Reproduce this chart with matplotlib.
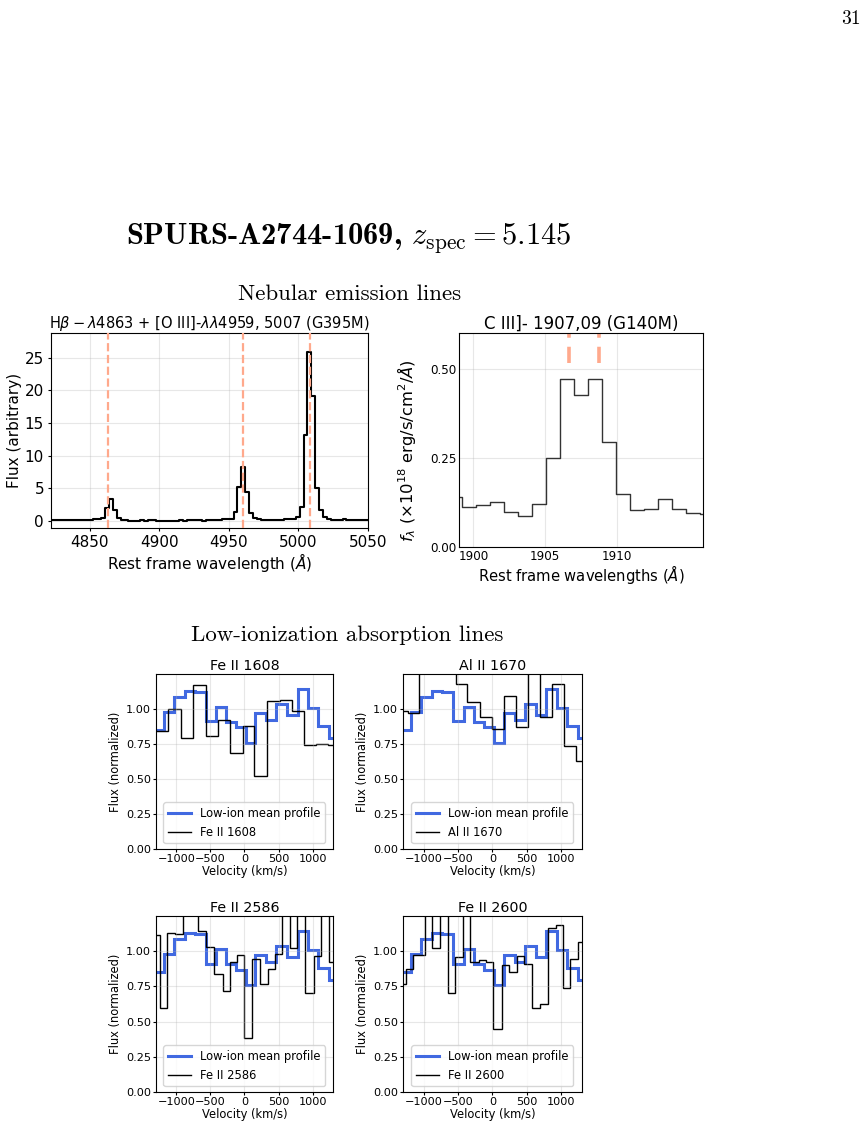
## Nebular emission + low-ion absorption lines for SPURS-A2744-1069
import os
import numpy as np
import matplotlib
matplotlib.use('Agg')
import matplotlib.pyplot as plt
from matplotlib.font_manager import FontProperties

# ---- Hbeta + [OIII] (G395M), rest frame
hb_wave = [4823.1, 4825.9, 4828.7, 4831.5, 4834.3, 4837.1, 4839.9, 4842.7, 4845.5, 4848.3,
           4851.1, 4853.9, 4856.7, 4859.5, 4862.3, 4865.1, 4867.9, 4870.7, 4873.5, 4876.3,
           4879.1, 4881.9, 4884.7, 4887.5, 4890.3, 4893.1, 4895.9, 4898.7, 4901.5, 4904.3,
           4907.1, 4909.9, 4912.7, 4915.5, 4918.3, 4921.1, 4923.9, 4926.7, 4929.5, 4932.3,
           4935.1, 4937.9, 4940.7, 4943.5, 4946.3, 4949.1, 4951.9, 4954.7, 4957.5, 4960.3,
           4963.1, 4965.9, 4968.7, 4971.5, 4974.3, 4977.1, 4979.9, 4982.7, 4985.5, 4988.3,
           4991.1, 4993.9, 4996.7, 4999.5, 5002.3, 5005.1, 5007.9, 5010.7, 5013.5, 5016.3,
           5019.1, 5021.9, 5024.7, 5027.5, 5030.3, 5033.1, 5035.9, 5038.7, 5041.5, 5044.3,
           5047.1, 5049.9]
hb_flux = [0.12, 0.10, 0.12, 0.11, 0.13, 0.10, 0.08, 0.07, 0.15, 0.14,
           0.12, 0.30, 0.28, 0.45, 2.0, 3.3, 1.6, 0.45, 0.20, 0.08,
           0.02, 0.03, 0.05, 0.12, 0.04, 0.10, 0.06, 0.01, 0.03, 0.00,
           0.05, 0.02, 0.03, 0.08, 0.04, 0.10, 0.06, 0.12, 0.09, 0.05,
           0.11, 0.13, 0.10, 0.14, 0.22, 0.30, 0.35, 1.3, 5.2, 8.2,
           4.5, 1.2, 0.45, 0.22, 0.15, 0.12, 0.14, 0.17, 0.16, 0.20,
           0.22, 0.28, 0.35, 0.60, 2.1, 13.2, 25.9, 19.1, 5.1, 1.6,
           0.55, 0.30, 0.18, 0.20, 0.12, 0.25, 0.15, 0.10, 0.12, 0.08,
           0.10, 0.11]
hb_lines = [4862.7, 4960.3, 5008.2]

# ---- CIII] (G140M), rest frame
c3_wave = [1898.72, 1899.70, 1900.68, 1901.64, 1902.61, 1903.58, 1904.57, 1905.56, 1906.53, 1907.49,
           1908.47, 1909.45, 1910.42, 1911.38, 1912.37, 1913.35, 1914.32, 1915.28, 1916.26]
c3_flux = [0.140, 0.112, 0.117, 0.127, 0.097, 0.088, 0.120, 0.250, 0.470, 0.425,
           0.470, 0.295, 0.150, 0.103, 0.107, 0.135, 0.107, 0.095, 0.093]
c3_lines = [1906.68, 1908.73]

# ---- low-ionization absorption (velocity bins, km/s)
mean_edges = [-1330, -1178, -1036, -875, -728, -572, -420, -274, -127, 15,
              161, 323, 469, 630, 782, 934, 1080, 1237, 1390]
mean_flux = [0.852, 0.979, 1.083, 1.129, 1.124, 0.912, 1.012, 0.907, 0.869,
             0.760, 0.971, 0.924, 1.038, 0.960, 1.145, 1.007, 0.881, 0.793]

fe1608_edges = [-1295, -1117, -937, -762, -563, -393, -209, -29, 146, 335,
                519, 694, 869, 1053, 1223, 1400]
fe1608_flux = [0.84, 1.00, 0.79, 1.175, 0.81, 0.92, 0.685, 0.88, 0.525, 1.06,
               1.065, 0.985, 0.745, 0.75, 0.74]

al1670_edges = [-1401, -1226, -1061, -886, -710, -535, -365, -185, -10, 170,
                341, 511, 691, 861, 1036, 1217, 1390]
al1670_flux = [0.985, 0.975, 1.35, 1.45, 1.30, 1.18, 1.05, 0.94, 0.855, 1.09,
               0.875, 1.40, 0.94, 1.18, 0.735, 0.63]

fe2586_edges = [-1350, -1238, -1131, -1024, -903, -791, -680, -558, -451, -320,
                -218, -112, 0, 117, 228, 340, 447, 558, 665, 777,
                893, 1015, 1126, 1248, 1359]
fe2586_flux = [1.118, 0.595, 1.13, 1.12, 1.35, 1.40, 1.144, 1.026, 0.835, 0.715,
               0.925, 0.97, 0.38, 0.943, 0.765, 0.875, 0.98, 1.35, 1.02, 1.40,
               0.705, 0.965, 1.35, 0.92]

fe2600_edges = [-1367, -1261, -1156, -987, -876, -766, -650, -539, -429, -323,
                -202, -91, 14, 135, 241, 351, 462, 578, 689, 799,
                915, 1026, 1131, 1242, 1353]
fe2600_flux = [0.765, 0.87, 0.976, 1.40, 1.02, 1.40, 0.705, 0.96, 1.40, 0.92,
               0.94, 0.92, 0.45, 0.905, 0.855, 0.965, 0.91, 0.595, 0.625, 1.165,
               1.185, 0.74, 0.945, 1.065]

abs_panels = [('Fe II 1608', fe1608_edges, fe1608_flux),
              ('Al II 1670', al1670_edges, al1670_flux),
              ('Fe II 2586', fe2586_edges, fe2586_flux),
              ('Fe II 2600', fe2600_edges, fe2600_flux)]

ttf = os.path.join(matplotlib.get_data_path(), 'fonts', 'ttf')
def cm_font(name, size):
    return FontProperties(fname=os.path.join(ttf, name), size=size, math_fontfamily='cm')

fig = plt.figure(figsize=(8.67, 11.29), dpi=100)

## page header / section headings
fig.text(0.993, 1 - 24/1129., '31', fontproperties=cm_font('cmr10.ttf', 14), ha='right', va='baseline')
fig.text(349/867., 1 - 244/1129., 'SPURS-A2744-1069, $z_{\\rm spec} = 5.145$',
         fontproperties=cm_font('cmb10.ttf', 22), ha='center', va='baseline')
fig.text(350/867., 1 - 300/1129., 'Nebular emission lines',
         fontproperties=cm_font('cmr10.ttf', 16.5), ha='center', va='baseline')
fig.text(347/867., 1 - 641/1129., 'Low-ionization absorption lines',
         fontproperties=cm_font('cmr10.ttf', 16.5), ha='center', va='baseline')

salmon = '#ffa98c'

## Hbeta + [OIII]
ax1 = fig.add_axes([0.0588, 0.5323, 0.3656, 0.1727])
ax1.step(hb_wave, hb_flux, where='mid', color='k', lw=1.5)
for w in hb_lines:
    ax1.axvline(w, color=salmon, ls='--', lw=1.6, zorder=3)
ax1.set_xlim(4822, 5050)
ax1.set_ylim(-1.1, 28.8)
ax1.set_xticks([4850, 4900, 4950, 5000, 5050])
ax1.set_yticks([0, 5, 10, 15, 20, 25])
ax1.tick_params(labelsize=11, length=2.5, pad=2.5)
ax1.grid(alpha=0.3)
ax1.set_xlabel('Rest frame wavelength ($\\AA$)', fontsize=11, labelpad=1)
ax1.set_ylabel('Flux (arbitrary)', fontsize=11, labelpad=2)
ax1.set_title(r'H$\beta-\lambda$4863 + [O III]-$\lambda\lambda$4959, 5007 (G395M)', fontsize=10.5, pad=3)

## CIII]
ax2 = fig.add_axes([0.5294, 0.5155, 0.2814, 0.1895])
ax2.step(c3_wave, c3_flux, where='mid', color='#333333', lw=1.0)
for w in c3_lines:
    ax2.axvline(w, ymin=0.86, ymax=1.0, color=salmon, ls='--', lw=2.6, dashes=(4.5, 2.5))
ax2.set_xlim(1899, 1916)
ax2.set_ylim(0, 0.6)
ax2.set_xticks([1900, 1905, 1910])
ax2.set_yticks([0, 0.25, 0.5])
ax2.set_yticklabels(['0.00', '0.25', '0.50'])
ax2.tick_params(labelsize=8.6, length=0, pad=2)
ax2.grid(alpha=0.3)
ax2.set_xlabel('Rest frame wavelengths ($\\AA$)', fontsize=10.6, labelpad=0)
ax2.set_ylabel('$f_\\lambda$ ($\\times10^{18}$ erg/s/cm$^2$/$\\AA$)', fontsize=11.8)
ax2.yaxis.set_label_coords(-0.168, 0.45)
ax2.set_title('C III]- 1907,09 (G140M)', fontsize=12, pad=2)

## low-ion absorption panels
rects = [[0.1799, 0.2480, 0.2042, 0.1550],
         [0.4648, 0.2480, 0.2065, 0.1550],
         [0.1799, 0.0328, 0.2042, 0.1559],
         [0.4648, 0.0328, 0.2065, 0.1559]]
for rect, (name, edges, flux) in zip(rects, abs_panels):
    ax = fig.add_axes(rect)
    ax.stairs(mean_flux, mean_edges, baseline=None, color='royalblue', lw=2.2,
              label='Low-ion mean profile')
    ax.stairs(flux, edges, baseline=None, color='k', lw=1.0, label=name)
    ax.set_xlim(-1300, 1300)
    ax.set_ylim(0, 1.25)
    ax.set_xticks([-1000, -500, 0, 500, 1000])
    ax.set_yticks([0, 0.25, 0.5, 0.75, 1.0])
    ax.tick_params(labelsize=8.1, length=2, pad=1.5)
    ax.grid(alpha=0.3)
    ax.set_xlabel('Velocity (km/s)', fontsize=8.3, labelpad=1)
    ax.set_ylabel('Flux (normalized)', fontsize=8.3, labelpad=3)
    ax.set_title(name, fontsize=10.3, pad=3)
    ax.legend(loc='lower center', fontsize=8.3, borderaxespad=0.5)

fig.savefig('out.png', dpi=100)
